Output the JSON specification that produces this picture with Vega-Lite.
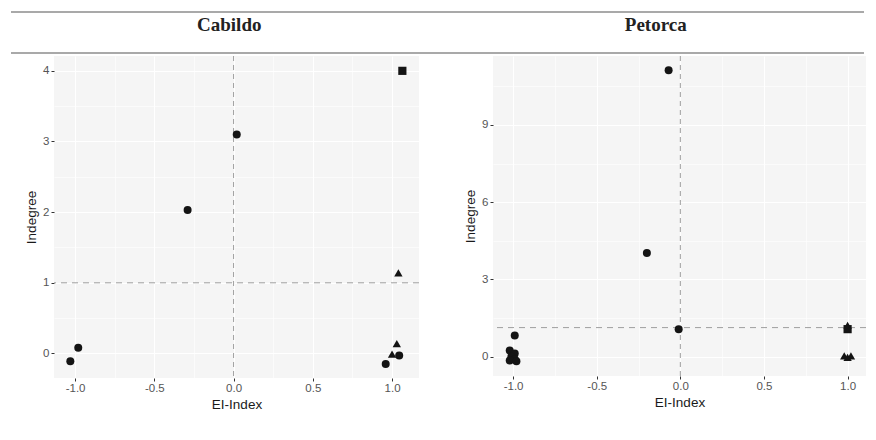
{
  "$schema": "https://vega.github.io/schema/vega-lite/v6.json",
  "background": "white",
  "padding": {"left": 10, "top": 11, "right": 5, "bottom": 5},
  "config": {
    "view": {"stroke": null},
    "axis": {
      "labelFont": "Liberation Sans",
      "titleFont": "Liberation Sans",
      "labelColor": "#555555",
      "titleColor": "#1a1a1a",
      "titleFontWeight": "normal",
      "labelFontSize": 11.5,
      "titleFontSize": 13.5,
      "tickColor": "#333333",
      "tickSize": 3,
      "domain": false,
      "gridColor": "#ffffff"
    }
  },
  "datasets": {
    "cabildo": [
      {"ei": 1.065, "indegree": 4.0, "type": "Type 2"},
      {"ei": 0.02, "indegree": 3.1, "type": "Type 1"},
      {"ei": -0.29, "indegree": 2.03, "type": "Type 1"},
      {"ei": 1.04, "indegree": 1.14, "type": "Type 3"},
      {"ei": 1.03, "indegree": 0.14, "type": "Type 3"},
      {"ei": 1.0, "indegree": -0.01, "type": "Type 3"},
      {"ei": 1.045, "indegree": -0.03, "type": "Type 1"},
      {"ei": 0.96, "indegree": -0.15, "type": "Type 1"},
      {"ei": -0.98, "indegree": 0.08, "type": "Type 1"},
      {"ei": -1.03, "indegree": -0.11, "type": "Type 1"}
    ],
    "petorca": [
      {"ei": -0.07, "indegree": 11.13, "type": "Type 1"},
      {"ei": -0.2, "indegree": 4.03, "type": "Type 1"},
      {"ei": -0.01, "indegree": 1.07, "type": "Type 1"},
      {"ei": -0.99, "indegree": 0.82, "type": "Type 1"},
      {"ei": -1.02, "indegree": 0.24, "type": "Type 1"},
      {"ei": -0.99, "indegree": 0.12, "type": "Type 1"},
      {"ei": -1.01, "indegree": 0.0, "type": "Type 1"},
      {"ei": -0.99, "indegree": -0.1, "type": "Type 1"},
      {"ei": -1.02, "indegree": -0.15, "type": "Type 1"},
      {"ei": -0.98, "indegree": -0.18, "type": "Type 1"},
      {"ei": 1.0, "indegree": 1.22, "type": "Type 3"},
      {"ei": 1.0, "indegree": 1.07, "type": "Type 2"},
      {"ei": 0.98, "indegree": 0.03, "type": "Type 3"},
      {"ei": 1.02, "indegree": 0.03, "type": "Type 3"},
      {"ei": 1.0, "indegree": -0.03, "type": "Type 3"}
    ]
  },
  "spacing": 1,
  "vconcat": [
    {
      "width": 853,
      "height": 41,
      "layer": [
        {
          "data": {"values": [{}]},
          "mark": {"type": "rule", "color": "#8c8c8c", "strokeWidth": 1.3},
          "encoding": {"y": {"datum": 0, "type": "quantitative", "scale": {"domain": [0, 1]}, "axis": null}}
        },
        {
          "data": {"values": [{}]},
          "mark": {"type": "rule", "color": "#8c8c8c", "strokeWidth": 1.3},
          "encoding": {"y": {"datum": 1, "type": "quantitative", "axis": null}}
        },
        {
          "data": {"values": [{"panel": "Cabildo"}, {"panel": "Petorca"}]},
          "mark": {"type": "text", "font": "Liberation Serif", "fontWeight": "bold", "fontSize": 19, "color": "#222222", "baseline": "alphabetic", "dy": -1.5, "dx": 5},
          "encoding": {
            "x": {"field": "panel", "type": "nominal", "axis": null, "sort": null},
            "text": {"field": "panel"}
          }
        }
      ]
    },
    {
      "spacing": 0,
      "hconcat": [
        {
          "width": 13,
          "height": 1,
          "data": {"values": []},
          "mark": {"type": "point", "opacity": 0},
          "encoding": {}
        },
        {
          "spacing": 43,
          "hconcat": [
            {
              "width": 365,
              "height": 322,
              "view": {"fill": "#f5f5f5", "stroke": null},
              "data": {"name": "cabildo"},
              "resolve": {"axis": {"x": "independent", "y": "independent"}},
              "layer": [
                {
                  "mark": {"type": "point", "opacity": 0},
                  "encoding": {
                    "x": {"field": "ei", "type": "quantitative", "scale": {"domain": [-1.133, 1.17], "nice": false, "zero": false},
                      "axis": {"orient": "bottom", "values": [-0.75, -0.25, 0.25, 0.75], "grid": true, "gridWidth": 0.6, "labels": false, "ticks": false, "title": null}},
                    "y": {"field": "indegree", "type": "quantitative", "scale": {"domain": [-0.347, 4.21], "nice": false, "zero": false},
                      "axis": {"orient": "left", "values": [0.5, 1.5, 2.5, 3.5], "grid": true, "gridWidth": 0.6, "labels": false, "ticks": false, "title": null}}
                  }
                },
                {
                  "data": {"values": [{}]},
                  "mark": {"type": "rule", "color": "#9e9e9e", "strokeDash": [5, 4], "strokeWidth": 1},
                  "encoding": {"x": {"datum": 0, "type": "quantitative", "axis": null}}
                },
                {
                  "data": {"values": [{}]},
                  "mark": {"type": "rule", "color": "#9e9e9e", "strokeDash": [6, 5], "strokeWidth": 1},
                  "encoding": {"y": {"datum": 1, "type": "quantitative", "axis": null}}
                },
                {
                  "mark": {"type": "point", "filled": true, "opacity": 1, "color": "#141414"},
                  "encoding": {
                    "x": {"field": "ei", "type": "quantitative",
                      "axis": {"orient": "bottom", "values": [-1, -0.5, 0, 0.5, 1], "labelExpr": "datum.value < 0 ? '-' + format(-datum.value, '.1f') : format(datum.value, '.1f')", "grid": true, "gridWidth": 1.1, "title": "EI-Index", "labelPadding": 1, "titlePadding": 4}},
                    "y": {"field": "indegree", "type": "quantitative",
                      "axis": {"orient": "left", "values": [0, 1, 2, 3, 4], "format": "d", "grid": true, "gridWidth": 1.1, "title": "Indegree", "labelPadding": 2, "titlePadding": 4}},
                    "shape": {"field": "type", "type": "nominal", "scale": {"domain": ["Type 1", "Type 2", "Type 3"], "range": ["circle", "square", "triangle-up"]}, "legend": null},
                    "size": {"field": "type", "type": "ordinal", "scale": {"domain": ["Type 1", "Type 2", "Type 3"], "range": [64, 70, 130]}, "legend": null}
                  }
                }
              ]
            },
            {
              "width": 373,
              "height": 320,
              "view": {"fill": "#f5f5f5", "stroke": null},
              "data": {"name": "petorca"},
              "resolve": {"axis": {"x": "independent", "y": "independent"}},
              "layer": [
                {
                  "mark": {"type": "point", "opacity": 0},
                  "encoding": {
                    "x": {"field": "ei", "type": "quantitative", "scale": {"domain": [-1.12, 1.11], "nice": false, "zero": false},
                      "axis": {"orient": "bottom", "values": [-0.75, -0.25, 0.25, 0.75], "grid": true, "gridWidth": 0.6, "labels": false, "ticks": false, "title": null}},
                    "y": {"field": "indegree", "type": "quantitative", "scale": {"domain": [-0.75, 11.68], "nice": false, "zero": false},
                      "axis": {"orient": "left", "values": [1.5, 4.5, 7.5, 10.5], "grid": true, "gridWidth": 0.6, "labels": false, "ticks": false, "title": null}}
                  }
                },
                {
                  "data": {"values": [{}]},
                  "mark": {"type": "rule", "color": "#9e9e9e", "strokeDash": [5, 4], "strokeWidth": 1},
                  "encoding": {"x": {"datum": 0, "type": "quantitative", "axis": null}}
                },
                {
                  "data": {"values": [{}]},
                  "mark": {"type": "rule", "color": "#9e9e9e", "strokeDash": [6, 5], "strokeWidth": 1},
                  "encoding": {"y": {"datum": 1.13, "type": "quantitative", "axis": null}}
                },
                {
                  "mark": {"type": "point", "filled": true, "opacity": 1, "color": "#141414"},
                  "encoding": {
                    "x": {"field": "ei", "type": "quantitative",
                      "axis": {"orient": "bottom", "values": [-1, -0.5, 0, 0.5, 1], "labelExpr": "datum.value < 0 ? '-' + format(-datum.value, '.1f') : format(datum.value, '.1f')", "grid": true, "gridWidth": 1.1, "title": "EI-Index", "labelPadding": 1, "titlePadding": 4}},
                    "y": {"field": "indegree", "type": "quantitative",
                      "axis": {"orient": "left", "values": [0, 3, 6, 9], "format": "d", "grid": true, "gridWidth": 1.1, "title": "Indegree", "labelPadding": 2, "titlePadding": 4}},
                    "shape": {"field": "type", "type": "nominal", "scale": {"domain": ["Type 1", "Type 2", "Type 3"], "range": ["circle", "square", "triangle-up"]}, "legend": null},
                    "size": {"field": "type", "type": "ordinal", "scale": {"domain": ["Type 1", "Type 2", "Type 3"], "range": [64, 70, 130]}, "legend": null}
                  }
                }
              ]
            }
          ]
        }
      ]
    }
  ]
}
